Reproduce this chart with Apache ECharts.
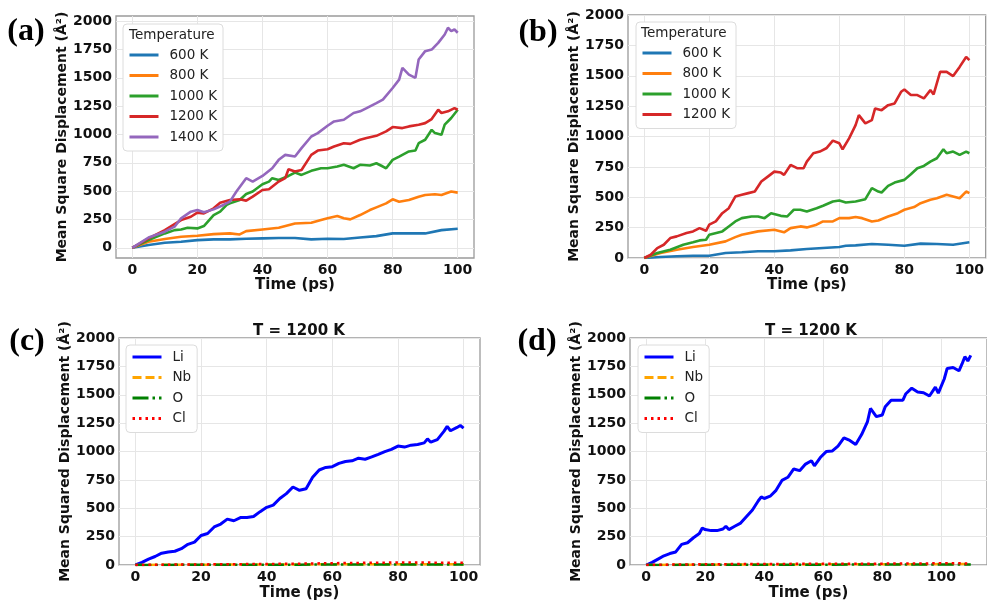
<!DOCTYPE html>
<html>
<head>
<meta charset="utf-8">
<script src="https://cdn.jsdelivr.net/npm/echarts@6/dist/echarts.min.js"></script>
<style>
  html, body { margin: 0; padding: 0; background: #ffffff; }
  #chart { width: 987px; height: 602px; }
</style>
</head>
<body>
<div id="chart"></div>
<script>
// ---------- tick labels ----------
const timeTicks100 = [0, 20, 40, 60, 80, 100];
const msdTicks = [0, 250, 500, 750, 1000, 1250, 1500, 1750, 2000];

// ---------- (a) MSD vs time at five temperatures ----------
const tA600 = [0, 5, 10, 15, 20, 25, 30, 35, 40, 45, 50, 55, 60, 65, 70, 75, 80, 85, 90, 95, 100];
const msdA600 = [0, 24, 44, 53, 68, 74, 74, 80, 83, 86, 86, 74, 80, 77, 91, 103, 127, 127, 127, 156, 168];

const tA800 = [0, 5, 10, 15, 20, 25, 30, 33, 35, 40, 45, 50, 55, 58, 60, 63, 65, 67, 70, 73, 75, 78, 80, 82, 85, 88, 90, 93, 95, 98, 100];
const msdA800 = [0, 53, 77, 97, 106, 121, 127, 118, 147, 162, 177, 215, 221, 245, 260, 280, 260, 251, 289, 333, 357, 392, 428, 407, 422, 451, 466, 472, 466, 496, 487];

const tA1000 = [0, 5, 10, 13, 15, 17, 20, 22, 25, 27, 29, 30, 33, 35, 37, 40, 42, 43, 45, 48, 50, 52, 55, 58, 60, 63, 65, 68, 70, 73, 75, 77, 78, 80, 82, 85, 87, 88, 90, 92, 93, 95, 96, 98, 100];
const msdA1000 = [0, 68, 127, 156, 162, 177, 171, 192, 289, 319, 378, 392, 422, 475, 496, 560, 584, 614, 599, 634, 664, 643, 679, 702, 702, 717, 732, 702, 732, 726, 746, 717, 702, 776, 805, 850, 858, 923, 953, 1041, 1012, 997, 1086, 1145, 1218];

const tA1200 = [0, 5, 10, 15, 18, 20, 22, 25, 27, 30, 33, 35, 37, 40, 42, 45, 47, 48, 50, 52, 55, 57, 60, 62, 65, 67, 70, 72, 75, 78, 80, 83, 85, 88, 90, 92, 94, 95, 97, 99, 100];
const msdA1200 = [0, 83, 156, 245, 274, 310, 304, 348, 398, 422, 428, 416, 451, 510, 516, 584, 614, 693, 673, 687, 820, 858, 870, 894, 923, 917, 953, 968, 988, 1027, 1065, 1056, 1071, 1086, 1100, 1136, 1218, 1189, 1204, 1233, 1218];

const tA1400 = [0, 5, 10, 13, 15, 18, 20, 22, 25, 28, 30, 32, 35, 37, 40, 43, 45, 47, 50, 52, 55, 57, 60, 62, 65, 68, 70, 72, 75, 77, 80, 82, 83, 85, 87, 88, 90, 92, 94, 96, 97, 98, 99, 100];
const msdA1400 = [0, 91, 142, 186, 260, 319, 333, 313, 339, 378, 407, 496, 614, 584, 634, 702, 776, 820, 805, 879, 982, 1012, 1077, 1115, 1130, 1189, 1204, 1233, 1277, 1307, 1410, 1484, 1587, 1528, 1499, 1661, 1735, 1749, 1808, 1882, 1941, 1912, 1926, 1897];

// ---------- (b) MSD vs time at four temperatures ----------
const tB600 = [0, 5, 10, 15, 20, 25, 30, 35, 40, 45, 50, 55, 60, 62, 65, 70, 75, 80, 85, 90, 95, 100];
const msdB600 = [0, 8, 14, 19, 19, 41, 47, 55, 55, 63, 74, 82, 90, 101, 104, 115, 109, 101, 118, 115, 109, 129];

const tB800 = [0, 5, 10, 15, 20, 25, 28, 30, 35, 40, 43, 45, 48, 50, 53, 55, 58, 60, 63, 65, 67, 70, 72, 75, 78, 80, 83, 85, 88, 90, 93, 95, 97, 99, 100];
const msdB800 = [0, 41, 68, 90, 109, 137, 172, 192, 219, 233, 211, 246, 260, 252, 274, 301, 301, 328, 328, 337, 328, 301, 309, 342, 369, 397, 419, 451, 479, 492, 520, 506, 492, 547, 534];

const tB1000 = [0, 4, 8, 12, 15, 17, 19, 20, 24, 26, 28, 30, 33, 35, 37, 39, 42, 44, 46, 48, 50, 53, 55, 58, 60, 62, 65, 68, 70, 72, 73, 75, 77, 80, 82, 84, 86, 88, 90, 92, 93, 95, 97, 99, 100];
const msdB1000 = [0, 41, 68, 109, 129, 145, 150, 192, 219, 260, 301, 328, 342, 342, 328, 369, 347, 342, 397, 397, 383, 410, 430, 465, 473, 457, 465, 484, 575, 547, 539, 594, 621, 643, 689, 739, 758, 793, 821, 895, 862, 876, 848, 876, 862];

const tB1200 = [0, 2, 4, 6, 8, 10, 13, 15, 17, 19, 20, 22, 24, 26, 28, 30, 32, 34, 36, 38, 40, 42, 43, 45, 47, 49, 50, 52, 54, 56, 58, 60, 61, 63, 65, 66, 68, 70, 71, 73, 75, 77, 79, 80, 82, 84, 86, 88, 89, 91, 93, 95, 97, 99, 100];
const msdB1200 = [0, 27, 82, 109, 164, 178, 205, 219, 246, 224, 274, 301, 369, 410, 506, 520, 534, 547, 629, 670, 711, 703, 684, 766, 739, 739, 793, 862, 876, 903, 966, 944, 895, 985, 1094, 1176, 1108, 1135, 1231, 1217, 1258, 1272, 1368, 1387, 1341, 1341, 1313, 1382, 1346, 1532, 1532, 1497, 1573, 1655, 1628];

// ---------- (c) species MSD at 1200 K ----------
const tCLi = [0, 2, 4, 6, 8, 10, 12, 14, 16, 18, 20, 22, 24, 26, 28, 30, 32, 34, 36, 38, 40, 42, 44, 46, 48, 50, 52, 54, 56, 58, 60, 62, 64, 66, 68, 70, 72, 74, 76, 78, 80, 82, 84, 86, 88, 89, 90, 92, 94, 95, 96, 98, 99, 100];
const msdCLi = [0, 23, 52, 75, 104, 115, 121, 144, 182, 202, 260, 277, 335, 361, 404, 390, 418, 418, 427, 470, 508, 528, 586, 629, 687, 658, 672, 773, 837, 860, 866, 895, 912, 918, 941, 932, 952, 975, 999, 1019, 1048, 1039, 1056, 1062, 1076, 1111, 1082, 1105, 1177, 1221, 1183, 1212, 1229, 1206];
const tCOther = [0, 10, 20, 30, 40, 50, 60, 70, 80, 90, 100];
const msdCNb = [0, 2, 3, 4, 5, 5, 6, 7, 7, 7, 7];
const msdCO = [0, 1, 2, 2, 3, 3, 4, 4, 4, 5, 5];
const msdCCl = [0, 3, 5, 7, 9, 12, 16, 19, 22, 21, 20];

// ---------- (d) species MSD at 1200 K, 110 ps run ----------
const timeTicks110 = [0, 20, 40, 60, 80, 100];
const tDLi = [0, 2, 4, 6, 8, 10, 12, 14, 16, 18, 19, 20, 22, 24, 26, 27, 28, 30, 32, 34, 36, 38, 39, 40, 42, 44, 46, 48, 50, 52, 54, 56, 57, 59, 61, 63, 65, 67, 69, 71, 73, 75, 76, 78, 80, 81, 83, 85, 87, 88, 90, 92, 94, 96, 98, 99, 101, 102, 104, 106, 107, 108, 109, 110];
const msdDLi = [0, 23, 52, 81, 101, 115, 182, 196, 240, 277, 326, 312, 303, 303, 317, 341, 312, 341, 369, 427, 485, 566, 600, 586, 606, 658, 745, 773, 846, 831, 889, 918, 874, 947, 999, 1004, 1048, 1120, 1097, 1062, 1149, 1264, 1379, 1307, 1322, 1394, 1452, 1452, 1452, 1509, 1558, 1524, 1518, 1489, 1567, 1515, 1639, 1732, 1740, 1711, 1769, 1835, 1798, 1847];
const tDOther = [0, 10, 20, 30, 40, 50, 60, 70, 80, 90, 100, 110];
const msdDNb = [0, 2, 3, 4, 5, 5, 6, 6, 7, 7, 8, 8];
const msdDO = [0, 1, 2, 2, 3, 3, 3, 4, 4, 4, 5, 5];
const msdDCl = [0, 4, 6, 8, 9, 10, 11, 12, 12, 13, 15, 14];

// ---------- styling ----------
const FONT = 'DejaVu Sans';
const tempColors = { '600 K': '#1f77b4', '800 K': '#ff7f0e', '1000 K': '#2ca02c', '1200 K': '#d62728', '1400 K': '#9467bd' };
const plainNumber = v => String(v);

function pairs(ts, vs) { return ts.map((t, i) => [t, vs[i]]); }

const grids = [
  { left: 116, top: 16, width: 358, height: 242 },
  { left: 628, top: 15, width: 359, height: 243 },
  { left: 119, top: 338, width: 361, height: 231 },
  { left: 630, top: 338, width: 361, height: 231 }
].map(g => Object.assign({ show: true, borderColor: '#9a9a9a', borderWidth: 1.3, backgroundColor: 'transparent' }, g));

function xAx(gi, min, max, ticks, gap) {
  return {
    type: 'value', gridIndex: gi, min, max,
    name: 'Time (ps)', nameLocation: 'middle', nameGap: gap,
    nameTextStyle: { fontFamily: FONT, fontWeight: 'bold', fontSize: 15, color: '#111' },
    axisLine: { show: false }, axisTick: { show: false, customValues: ticks },
    axisLabel: { customValues: ticks, formatter: plainNumber, fontFamily: FONT, fontWeight: 'bold', fontSize: 14, color: '#111', margin: 5 },
    splitLine: { show: true, lineStyle: { color: '#e6e6e6', width: 1 } }
  };
}
function yAx(gi, min, max, name, gap) {
  return {
    type: 'value', gridIndex: gi, min, max,
    name, nameLocation: 'middle', nameGap: gap, nameRotate: 90,
    nameTextStyle: { fontFamily: FONT, fontWeight: 'bold', fontSize: 14, color: '#111' },
    axisLine: { show: false }, axisTick: { show: false, customValues: msdTicks },
    axisLabel: { customValues: msdTicks, formatter: plainNumber, fontFamily: FONT, fontWeight: 'bold', fontSize: 14, color: '#111', margin: 4 },
    splitLine: { show: true, lineStyle: { color: '#e6e6e6', width: 1 } }
  };
}

function tempSeries(gi, name, ts, vs) {
  return {
    type: 'line', name, xAxisIndex: gi, yAxisIndex: gi, data: pairs(ts, vs),
    symbol: 'none', lineStyle: { color: tempColors[name], width: 2.6 }, itemStyle: { color: tempColors[name] },
    animation: false
  };
}
function speciesSeries(gi, name, ts, vs, color, type, width) {
  return {
    type: 'line', name, xAxisIndex: gi, yAxisIndex: gi, data: pairs(ts, vs),
    symbol: 'none', lineStyle: { color, width, type }, itemStyle: { color },
    animation: false
  };
}

const series = [
  tempSeries(0, '600 K', tA600, msdA600),
  tempSeries(0, '800 K', tA800, msdA800),
  tempSeries(0, '1000 K', tA1000, msdA1000),
  tempSeries(0, '1200 K', tA1200, msdA1200),
  tempSeries(0, '1400 K', tA1400, msdA1400),
  tempSeries(1, '600 K', tB600, msdB600),
  tempSeries(1, '800 K', tB800, msdB800),
  tempSeries(1, '1000 K', tB1000, msdB1000),
  tempSeries(1, '1200 K', tB1200, msdB1200),
  speciesSeries(2, 'Li', tCLi, msdCLi, '#0000ff', 'solid', 3),
  speciesSeries(2, 'Nb', tCOther, msdCNb, '#ffa500', [9, 4], 2.5),
  speciesSeries(2, 'O', tCOther, msdCO, '#008000', [16, 4, 2.5, 4], 2.5),
  speciesSeries(2, 'Cl', tCOther, msdCCl, '#ff0000', [2.5, 4], 2.5),
  speciesSeries(3, 'Li', tDLi, msdDLi, '#0000ff', 'solid', 3),
  speciesSeries(3, 'Nb', tDOther, msdDNb, '#ffa500', [9, 4], 2.5),
  speciesSeries(3, 'O', tDOther, msdDO, '#008000', [16, 4, 2.5, 4], 2.5),
  speciesSeries(3, 'Cl', tDOther, msdDCl, '#ff0000', [2.5, 4], 2.5)
];

function legendBox(left, top, names, padTop) {
  return {
    left, top, orient: 'vertical', data: names, selectedMode: false,
    padding: [padTop, 6, 7, 5], itemWidth: 29, itemHeight: 14, itemGap: 6.5,
    itemStyle: { opacity: 0 }, lineStyle: { width: 3 },
    backgroundColor: '#ffffff', borderColor: '#dcdcdc', borderWidth: 1, borderRadius: 4,
    textStyle: { fontFamily: FONT, fontSize: 13.5, color: '#222', padding: [0, 0, 0, 6] }
  };
}

const option = {
  animation: false,
  backgroundColor: '#ffffff',
  grid: grids,
  xAxis: [
    xAx(0, -5, 105, timeTicks100, 18), xAx(1, -5, 105, timeTicks100, 18),
    xAx(2, -5, 105, timeTicks100, 21), xAx(3, -5.5, 115.5, timeTicks110, 21)
  ],
  yAxis: [
    yAx(0, -90, 2045, 'Mean Square Displacement (Å²)', 45),
    yAx(1, 0, 2000, 'Mean Square Displacement (Å²)', 44),
    yAx(2, 0, 2000, 'Mean Squared Displacement (Å²)', 46),
    yAx(3, 0, 2000, 'Mean Squared Displacement (Å²)', 44)
  ],
  legend: [
    legendBox(123, 24, ['600 K', '800 K', '1000 K', '1200 K', '1400 K'], 24),
    legendBox(636, 22, ['600 K', '800 K', '1000 K', '1200 K'], 24),
    legendBox(126, 345, ['Li', 'Nb', 'O', 'Cl'], 5),
    legendBox(638, 345, ['Li', 'Nb', 'O', 'Cl'], 5)
  ],
  graphic: [
    { type: 'text', z: 100, style: { text: 'Temperature', x: 129, y: 35, font: '13.5px "DejaVu Sans"', fill: '#222', textVerticalAlign: 'middle' } },
    { type: 'text', z: 100, style: { text: 'Temperature', x: 641, y: 33, font: '13.5px "DejaVu Sans"', fill: '#222', textVerticalAlign: 'middle' } },
    { type: 'text', z: 100, style: { text: 'T = 1200 K', x: 299, y: 331, font: 'bold 15px "DejaVu Sans"', fill: '#111', textAlign: 'center', textVerticalAlign: 'middle' } },
    { type: 'text', z: 100, style: { text: 'T = 1200 K', x: 811, y: 331, font: 'bold 15px "DejaVu Sans"', fill: '#111', textAlign: 'center', textVerticalAlign: 'middle' } },
    { type: 'text', z: 100, style: { text: '(a)', x: 26, y: 32, font: 'bold 32px "Liberation Serif"', fill: '#000', textAlign: 'center', textVerticalAlign: 'middle' } },
    { type: 'text', z: 100, style: { text: '(b)', x: 538, y: 33, font: 'bold 32px "Liberation Serif"', fill: '#000', textAlign: 'center', textVerticalAlign: 'middle' } },
    { type: 'text', z: 100, style: { text: '(c)', x: 27, y: 342, font: 'bold 32px "Liberation Serif"', fill: '#000', textAlign: 'center', textVerticalAlign: 'middle' } },
    { type: 'text', z: 100, style: { text: '(d)', x: 537, y: 342, font: 'bold 32px "Liberation Serif"', fill: '#000', textAlign: 'center', textVerticalAlign: 'middle' } }
  ],
  series
};

const chart = echarts.init(document.getElementById('chart'), null, { renderer: 'canvas' });
chart.setOption(option);
</script>
</body>
</html>
